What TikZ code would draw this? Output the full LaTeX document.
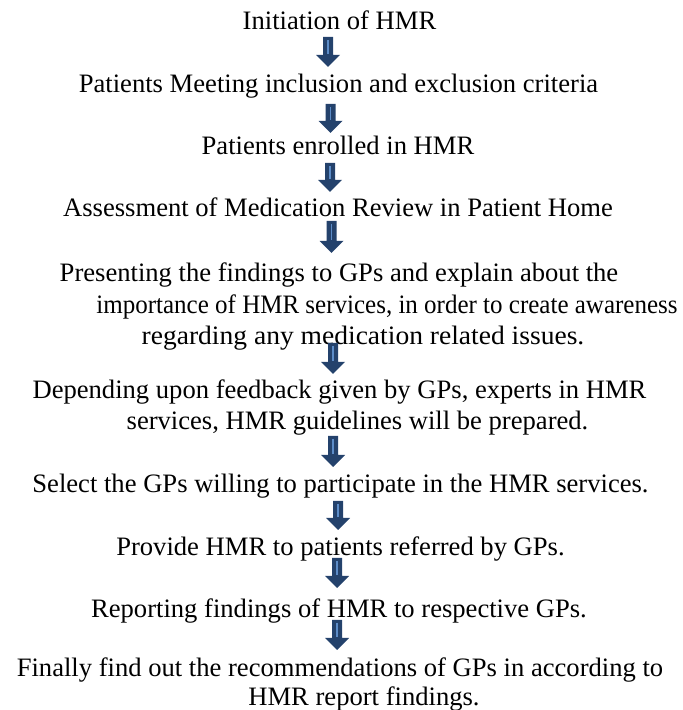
\documentclass[tikz,border=0pt]{standalone}
\usepackage{fontspec}
\usepackage{graphicx}
\setmainfont{Liberation Serif}
\definecolor{arrowblue}{RGB}{36,66,108}
\definecolor{stripeblue}{RGB}{92,140,200}
\begin{document}
\begin{tikzpicture}[x=1pt,y=1pt,
  txt/.style={anchor=base, inner sep=0pt, font=\fontsize{26.6}{31}\selectfont},
  pics/blockarrow/.style={code={
    \fill[arrowblue] (-5,0) -- (5,0) -- (5,-#1+12) -- (12,-#1+12) -- (0,-#1)
      -- (-12,-#1+12) -- (-5,-#1+12) -- cycle;
    \draw[stripeblue, line width=1.3pt] (0,-3) -- (0,-#1+13);
  }}]
\useasboundingbox (0,0) rectangle (683,710);

% step texts (baselines measured from the top edge)
\node[txt] (s1)  at (339.5, 710-30)  {Initiation of HMR};
\node[txt] (s2)  at (338.5, 710-93)  {Patients Meeting inclusion and exclusion criteria};
\node[txt] (s3)  at (338,   710-155) {Patients enrolled in HMR};
\node[txt] (s4)  at (338,   710-217) {Assessment of Medication Review in Patient Home};
\node[txt] (s5a) at (339,   710-282) {Presenting the findings to GPs and explain about the};
\node[txt] (s5b) at (387,   710-314) {\scalebox{0.94}[1]{importance of HMR services, in order to create awareness}};
\node[txt] (s5c) at (363,   710-345) {\scalebox{1.035}[1]{regarding any medication related issues.}};
\node[txt] (s6a) at (339.5, 710-399) {Depending upon feedback given by GPs, experts in HMR};
\node[txt] (s6b) at (357.5, 710-430) {services, HMR guidelines will be prepared.};
\node[txt] (s7)  at (340.5, 710-493) {Select the GPs willing to participate in the HMR services.};
\node[txt] (s8)  at (340.5, 710-556) {Provide HMR to patients referred by GPs.};
\node[txt] (s9)  at (339,   710-618) {Reporting findings of HMR to respective GPs.};
\node[txt] (s10a) at (340,  710-677) {Finally find out the recommendations of GPs in according to};
\node[txt] (s10b) at (364,  710-705) {HMR report findings.};

% block arrows between the steps
\pic (a1) at (328,   710-37)  {blockarrow=30};
\pic (a2) at (330.5, 710-104) {blockarrow=29};
\pic (a3) at (330,   710-163) {blockarrow=29};
\pic (a4) at (331.5, 710-221) {blockarrow=32};
\pic (a5) at (333,   710-343) {blockarrow=31};
\pic (a6) at (333,   710-436) {blockarrow=31};
\pic (a7) at (338,   710-501) {blockarrow=29};
\pic (a8) at (337,   710-558) {blockarrow=30};
\pic (a9) at (337,   710-620) {blockarrow=30};
\end{tikzpicture}
\end{document}
